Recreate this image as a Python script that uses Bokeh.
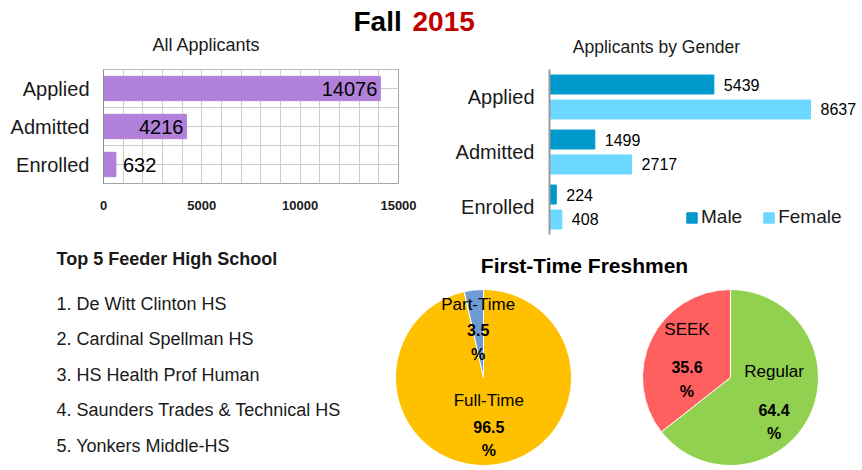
import math
from bokeh.plotting import figure
from bokeh.layouts import column, row
from bokeh.models import (Range1d, FactorRange, FixedTicker, SingleIntervalTicker, Grid,
                          Legend, LegendItem, ColumnDataSource)
from bokeh.transform import dodge
from bokeh.core.properties import value
from bokeh.embed import file_html
from bokeh.resources import INLINE

# ---------------- data ----------------
stages = ["Applied", "Admitted", "Enrolled"]
all_applicants = [14076, 4216, 632]
male = [5439, 1499, 224]
female = [8637, 2717, 408]
all_x_ticks = [0, 5000, 10000, 15000]
feeder_schools = ["De Witt Clinton HS", "Cardinal Spellman HS", "HS Health Prof Human",
                  "Saunders Trades & Technical HS", "Yonkers Middle-HS"]
status_labels = ["Full-Time", "Part-Time"]
status_pct = [96.5, 3.5]
program_labels = ["Regular", "SEEK"]
program_pct = [64.4, 35.6]

# ---------------- styles ----------------
SANS = "Liberation Sans"
INK = "#1a1a1a"
PURPLE = "#B180D9"
MALE_C = "#0099CC"
FEMALE_C = "#6CD8FF"
GRID_C = "#cccccc"
FRAME_C = "#a6a6a6"


def canvas(w, h):
    p = figure(width=w, height=h, x_range=Range1d(0, w), y_range=Range1d(h, 0),
               output_backend="svg", toolbar_location=None,
               x_axis_location=None, y_axis_location=None, min_border=0)
    p.outline_line_color = None
    p.grid.visible = False
    return p


# ---------------- header ----------------
head = canvas(860, 58)
head.text(x=[353], y=[21], text=["Fall"], text_font=value(SANS), text_font_style="bold",
          text_font_size="28px", text_baseline="middle", text_color="black")
head.text(x=[412], y=[21], text=["2015"], text_font=value(SANS), text_font_style="bold",
          text_font_size="28px", text_baseline="middle", text_color="#C00000")
head.text(x=[206], y=[44], text=["All Applicants"], text_font=value(SANS),
          text_font_size="18px", text_baseline="middle", text_align="center", text_color=INK)
head.text(x=[656], y=[46.5], text=["Applicants by Gender"], text_font=value(SANS),
          text_font_size="17.5px", text_baseline="middle", text_align="center", text_color=INK)

# ---------------- all applicants ----------------
y_cats = list(reversed(stages))
src1 = ColumnDataSource(dict(stage=stages, total=all_applicants))
p1 = figure(width=430, height=131, y_range=FactorRange(factors=y_cats), x_range=Range1d(0, 15000),
            output_backend="svg", toolbar_location=None, x_axis_location=None,
            min_border_left=103, min_border_right=32, min_border_top=11, min_border_bottom=6)
p1.outline_line_color = FRAME_C
p1.add_layout(Grid(dimension=0, ticker=SingleIntervalTicker(interval=1000), grid_line_color=GRID_C))
p1.ygrid.grid_line_color = GRID_C
p1.hspan(y=dodge("stage", 0.5, range=p1.y_range), source=src1, line_color=GRID_C, line_width=1)
p1.hbar(y="stage", left=0, right="total", height=0.64, source=src1,
        fill_color=PURPLE, line_color=PURPLE)

xmax = p1.x_range.end
inside = [i for i, v in enumerate(all_applicants) if v >= 0.2 * xmax]
outside = [i for i, v in enumerate(all_applicants) if v < 0.2 * xmax]
p1.text(x=[all_applicants[i] for i in inside], y=[stages[i] for i in inside],
        text=[str(all_applicants[i]) for i in inside], text_align="right", text_baseline="middle",
        x_offset=-3, text_font=value(SANS), text_font_size="20px", text_color="black")
p1.text(x=[all_applicants[i] for i in outside], y=[stages[i] for i in outside],
        text=[str(all_applicants[i]) for i in outside], text_align="left", text_baseline="middle",
        x_offset=7, text_font=value(SANS), text_font_size="20px", text_color="black")
p1.yaxis.major_tick_out = 0
p1.yaxis.major_tick_in = 0
p1.yaxis.axis_line_color = "#8c8c8c"
p1.yaxis.major_label_text_font = SANS
p1.yaxis.major_label_text_font_size = "20px"
p1.yaxis.major_label_text_color = INK
p1.yaxis.major_label_standoff = 14

# x axis of the "All Applicants" chart, sharing its x range
pax = figure(width=430, height=51, x_range=p1.x_range, y_range=Range1d(0, 1),
             output_backend="svg", toolbar_location=None, y_axis_location=None,
             min_border_left=103, min_border_right=32, min_border_top=0, min_border_bottom=49)
pax.outline_line_color = None
pax.grid.visible = False
pax.xaxis.ticker = FixedTicker(ticks=all_x_ticks)
pax.xaxis.major_tick_out = 0
pax.xaxis.major_tick_in = 0
pax.xaxis.minor_tick_line_color = None
pax.xaxis.axis_line_color = None
pax.xaxis.major_label_text_font = SANS
pax.xaxis.major_label_text_font_style = "bold"
pax.xaxis.major_label_text_font_size = "13px"
pax.xaxis.major_label_text_color = INK
pax.xaxis.major_label_standoff = 9

# ---------------- by gender ----------------
src2 = ColumnDataSource(dict(stage=stages, male=male, female=female,
                             ml=[str(v) for v in male], fl=[str(v) for v in female]))
p2 = figure(width=430, height=182, y_range=FactorRange(factors=y_cats), x_range=Range1d(0, 10225),
            output_backend="svg", toolbar_location=None, x_axis_location=None,
            min_border_left=119, min_border_right=2, min_border_top=11, min_border_bottom=6)
p2.outline_line_color = None
p2.grid.visible = False
rm = p2.hbar(y=dodge("stage", 0.227, range=p2.y_range), left=0, right="male", height=0.345,
             source=src2, fill_color=MALE_C, line_color=MALE_C)
rf = p2.hbar(y=dodge("stage", -0.227, range=p2.y_range), left=0, right="female", height=0.345,
             source=src2, fill_color=FEMALE_C, line_color=FEMALE_C)
p2.text(x="male", y=dodge("stage", 0.227, range=p2.y_range), text="ml", source=src2,
        x_offset=10, text_baseline="middle", text_font=value(SANS), text_font_size="16px",
        text_color="black")
p2.text(x="female", y=dodge("stage", -0.227, range=p2.y_range), text="fl", source=src2,
        x_offset=10, text_baseline="middle", text_font=value(SANS), text_font_size="16px",
        text_color="black")
p2.yaxis.major_tick_out = 0
p2.yaxis.major_tick_in = 0
p2.yaxis.axis_line_color = "#9a9a9a"
p2.yaxis.axis_line_width = 2
p2.yaxis.major_label_text_font = SANS
p2.yaxis.major_label_text_font_size = "20px"
p2.yaxis.major_label_text_color = INK
p2.yaxis.major_label_standoff = 15
legend = Legend(items=[LegendItem(label="Male", renderers=[rm]), LegendItem(label="Female", renderers=[rf])],
                orientation="horizontal", location=(136, 6), padding=0, margin=0, spacing=20,
                glyph_width=13, glyph_height=13, label_standoff=3,
                label_text_font=SANS, label_text_font_size="19px", label_text_color=INK,
                border_line_color=None, background_fill_alpha=0)
p2.add_layout(legend)

# ---------------- feeder list ----------------
lst = canvas(380, 228)
lst.text(x=[56], y=[18], text=["Top 5 Feeder High School"], text_font=value(SANS),
         text_font_style="bold", text_font_size="18px", text_baseline="middle", text_color=INK)
lst.text(x=[56] * len(feeder_schools), y=[63 + 35.5 * i for i in range(len(feeder_schools))],
         text=[f"{i + 1}. {s}" for i, s in enumerate(feeder_schools)], text_font=value(SANS),
         text_font_size="18px", text_baseline="middle", text_color=INK)

# ---------------- pies ----------------
ptitle = canvas(480, 40)
ptitle.text(x=[204], y=[25], text=["First-Time Freshmen"], text_font=value(SANS),
            text_font_style="bold", text_font_size="21px", text_baseline="middle",
            text_align="center", text_color="black")

R = 88


def pie_fig(w, cx, labels, pcts, colors, name_dy, val_dy, pct_dy):
    h = 188
    p = figure(width=w, height=h, x_range=Range1d(-cx, w - cx), y_range=Range1d(-(h - 97), 97),
               output_backend="svg", toolbar_location=None,
               x_axis_location=None, y_axis_location=None, min_border=0)
    p.outline_line_color = None
    p.grid.visible = False
    total = sum(pcts)
    starts, ends, mids = [], [], []
    cum = 0.0
    for v in pcts:
        a0 = math.pi / 2 - 2 * math.pi * cum / total
        cum += v
        a1 = math.pi / 2 - 2 * math.pi * cum / total
        starts.append(a0)
        ends.append(a1)
        mids.append((a0 + a1) / 2)
    p.wedge(x=0, y=0, radius=R, start_angle=starts, end_angle=ends, direction="clock",
            fill_color=colors, line_color="white", line_width=1)
    lx = [0.55 * R * math.cos(m) for m in mids]
    ly = [0.55 * R * math.sin(m) for m in mids]
    common = dict(text_align="center", text_baseline="middle", text_font=value(SANS),
                  text_color="black")
    p.text(x=lx, y=ly, text=labels, y_offset=name_dy, text_font_size="17px", **common)
    p.text(x=lx, y=ly, text=[f"{v}" for v in pcts], y_offset=val_dy, text_font_style="bold",
           text_font_size="16px", **common)
    p.text(x=lx, y=ly, text=["%"] * len(pcts), y_offset=pct_dy, text_font_style="bold",
           text_font_size="16px", **common)
    return p


pie1 = pie_fig(226, 103, status_labels, status_pct, ["#FFC000", "#6F9BD5"], -25, 1, 25)
pie2 = pie_fig(254, 124, program_labels, program_pct, ["#92D050", "#FF5F5F"], -27, 11, 35)

layout = column(head, row(column(p1, pax), p2), row(lst, column(ptitle, row(pie1, pie2))))

open("out.html", "w").write(file_html(layout, INLINE))
